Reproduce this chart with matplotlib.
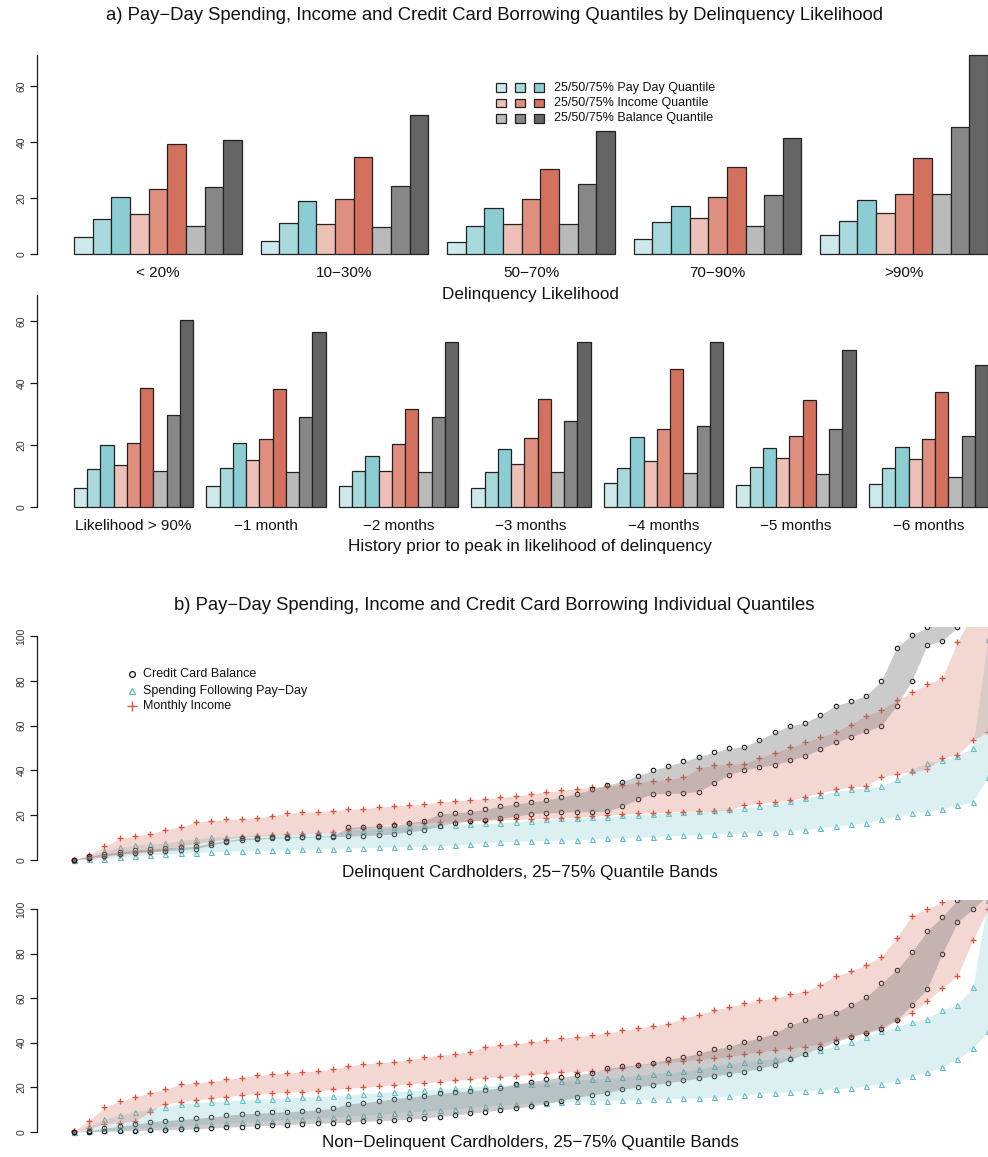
import numpy as np
import matplotlib
matplotlib.use("Agg")
import matplotlib.pyplot as plt
from matplotlib.patches import Rectangle
from matplotlib.lines import Line2D

plt.rcParams['font.family'] = ['Liberation Sans', 'DejaVu Sans']

W, H = 988, 1157

# ---------------- data: panel a ----------------
likelihood_groups = ['< 20%', '10\u221230%', '50\u221270%', '70\u221290%', '>90%']
history_groups = ['Likelihood > 90%', '\u22121 month', '\u22122 months', '\u22123 months',
                  '\u22124 months', '\u22125 months', '\u22126 months']
legend_a_labels = ['25/50/75% Pay Day Quantile', '25/50/75% Income Quantile',
                   '25/50/75% Balance Quantile']

# rows = groups, columns = 25/50/75% quantiles
payday_by_likelihood = [[6.2, 12.5, 20.2], [4.8, 11.0, 19.0], [4.2, 10.0, 16.4],
                        [5.5, 11.3, 17.1], [6.7, 11.7, 19.3]]
income_by_likelihood = [[14.3, 23.4, 39.4], [10.6, 19.5, 34.8], [10.7, 19.6, 30.2],
                        [13.0, 20.4, 31.0], [14.5, 21.5, 34.2]]
balance_by_likelihood = [[10.0, 23.9, 40.7], [9.8, 24.2, 49.8], [10.6, 25.0, 43.9],
                         [10.1, 21.0, 41.3], [21.3, 45.4, 71.1]]

payday_by_history = [[6.0, 12.3, 20.0], [6.6, 12.4, 20.5], [6.6, 11.6, 16.5], [6.0, 11.1, 18.5],
                     [7.7, 12.4, 22.5], [6.9, 12.8, 19.1], [7.4, 12.5, 19.2]]
income_by_history = [[13.5, 20.6, 38.2], [15.1, 21.9, 37.9], [11.5, 20.2, 31.6], [13.7, 22.1, 34.8],
                     [14.7, 25.1, 44.5], [15.8, 22.9, 34.5], [15.5, 21.9, 37.1]]
balance_by_history = [[11.4, 29.7, 60.2], [11.3, 29.1, 56.3], [11.1, 29.0, 53.2], [11.1, 27.6, 53.2],
                      [11.0, 26.2, 53.2], [10.6, 25.1, 50.5], [9.7, 22.7, 45.8]]

payday_colors = ['#cde9eb', '#a8d9dd', '#8ccdd4']
income_colors = ['#ecc0b6', '#de8f80', '#d4705e']
balance_colors = ['#bababa', '#878787', '#646464']

# ---------------- data: panel b (individual quantiles, 61 ordered positions) ----------------
income_hi_delinq = [0, 2.3, 6, 9.5, 10.5, 11.5, 13.5, 14.5, 16.8, 17.5,
                    18, 18.3, 18.8, 19.5, 20.8, 21.2, 21.5, 22, 22.5, 22.8,
                    23.5, 24, 24.3, 24.8, 25.8, 26.3, 26.8, 27.3, 28, 28.6,
                    29.3, 30.3, 31, 31.8, 32.5, 33, 33.5, 34.5, 35.3, 36,
                    36.8, 40.9, 42.4, 42.8, 43, 45.5, 47.8, 50.3, 52.5, 55,
                    57.3, 60.5, 64.5, 67, 71.3, 75, 78.5, 81.3, 97.6, 110, 120]
income_lo_delinq = [0, 0.5, 1.3, 2.2, 2.8, 3.5, 4.3, 6, 7.3, 8.2,
                    9.3, 10, 10.5, 11, 11.3, 11.7, 12, 12.5, 13.5, 14.2,
                    15, 16, 16.3, 16.5, 16.8, 17, 17.3, 17.5, 17.8, 18,
                    18.3, 18.5, 18.8, 19, 19.5, 20, 20.3, 20.7, 21, 21.3,
                    21.5, 21.8, 22, 22.3, 24.5, 25.3, 26, 26.5, 28.2, 30,
                    31.5, 32.5, 33, 37, 38.4, 39.4, 40.5, 45.5, 46.9, 53.5, 57]
spend_hi_delinq = [0, 1.5, 4, 5.5, 6.5, 7, 7.5, 8.5, 9.3, 10,
                   10.3, 10.6, 11, 11.3, 11.6, 11.8, 12.2, 12.5, 13, 13.5,
                   14, 14.5, 15, 15.3, 15.5, 15.7, 16, 16.2, 16.5, 17,
                   17.5, 18, 18.5, 18.8, 19, 19.3, 19.8, 20.2, 20.5, 21,
                   21.3, 21.8, 22.2, 22.7, 23.2, 24, 25.5, 26.2, 27.5, 29,
                   30.5, 31.5, 32.2, 32.8, 36, 40, 43.5, 44.5, 46.5, 50, 99]
spend_lo_delinq = [0, 0.1, 0.3, 1, 1.6, 2.2, 2.6, 2.9, 3.2, 3.5,
                   3.8, 4, 4.2, 4.4, 4.5, 4.7, 4.9, 5, 5.2, 5.4,
                   5.5, 5.7, 5.9, 6.1, 6.3, 6.6, 7, 7.5, 8, 8.2,
                   8.4, 8.6, 8.8, 9, 9.2, 9.5, 9.8, 10.1, 10.3, 10.6,
                   10.9, 11.2, 11.5, 11.8, 12, 12.3, 12.6, 13, 13.5, 14.2,
                   15, 15.8, 16.5, 18, 19.5, 21, 21.5, 22.7, 24.3, 26, 37]
balance_hi_delinq = [0, 1.5, 2.5, 3.5, 4.3, 4.8, 5.2, 5.6, 6, 7.5,
                     8.5, 9.6, 9.8, 10, 10.2, 10.3, 10.5, 10.8, 14.5, 14.8,
                     15, 15.3, 16.5, 17.5, 20.5, 21, 21.5, 22.5, 24, 25,
                     25.8, 26.8, 28, 29.5, 31.5, 33.4, 35, 37.5, 40, 42,
                     44, 46.1, 48, 49.9, 50.6, 53.6, 57, 60, 61.3, 64.8,
                     69, 71, 73.5, 80, 95, 100.5, 104, 108, 112, 116, 120]
balance_lo_delinq = [0, 0.8, 1.8, 2.6, 3.2, 3.6, 4, 4.4, 5, 6.5,
                     8, 8.8, 9.2, 9.6, 9.8, 10, 10.2, 10.3, 10.5, 10.8,
                     11, 11.5, 12.5, 13.3, 15, 16.5, 17.3, 17.8, 18.5, 19.5,
                     20.5, 21, 21.2, 21.5, 21.5, 21.7, 24, 27, 29.5, 29.7,
                     29.8, 30.5, 34.2, 38, 40.2, 41.5, 42.5, 44.5, 46.5, 49.5,
                     52.5, 55, 57.5, 60, 69, 80, 96, 98, 104, 108, 115]

income_hi_nondelinq = [0.3, 5, 11, 13.6, 15.5, 17.5, 19, 21.3, 21.8, 22.5,
                       23.5, 24.3, 25.3, 25.8, 26.3, 26.8, 27.3, 28, 29.5, 30.3,
                       31, 31.5, 32.2, 33.5, 34.2, 35, 35.8, 38.2, 39, 39.5,
                       40.3, 41.2, 42, 42.7, 43.5, 44.3, 45.5, 46.5, 47.5, 48.5,
                       51, 52.5, 54.6, 56, 57.6, 59, 60, 61.8, 62.9, 66,
                       70, 72, 75, 78.5, 87, 97, 100, 103, 107, 112, 118]
income_lo_nondelinq = [0.3, 1.5, 3.5, 4, 4.8, 9, 12.5, 13.5, 14.3, 15,
                       15.7, 16.5, 17, 17.4, 17.8, 18, 18.4, 19, 19.5, 20,
                       20.5, 21, 21.5, 22, 22.5, 23, 23.7, 24.3, 24.7, 25.2,
                       25.7, 26.2, 26.6, 27, 27.3, 27.7, 28.5, 29.8, 30.6, 31.2,
                       31.8, 32.4, 32.9, 33.8, 34.8, 35.8, 36.7, 37.4, 38.2, 39.5,
                       41.5, 43, 44.5, 47, 50, 53.5, 58.7, 64.5, 70, 86, 100]
spend_hi_nondelinq = [0, 2.5, 5.5, 7.5, 9, 10.3, 11.2, 12.5, 13, 13.5,
                      13.8, 14.2, 14.5, 14.8, 15.2, 15.5, 15.8, 16, 16.5, 17,
                      17.5, 18, 18.3, 18.7, 19.2, 19.6, 20, 20.4, 20.8, 21.2,
                      21.6, 22, 22.6, 23.2, 23.6, 24, 24.5, 25.2, 26, 26.6,
                      27.2, 28.2, 29.5, 30.5, 31.4, 32.2, 32.8, 33.5, 35.2, 36.8,
                      38.5, 40.3, 42.5, 45, 47, 49.2, 50.8, 54.8, 57, 65, 104]
spend_lo_nondelinq = [0, 0.3, 0.6, 1, 1.4, 1.8, 2.2, 2.6, 3, 3.4,
                      3.8, 4.2, 4.6, 5, 5.4, 5.8, 6.2, 6.6, 7, 7.4,
                      7.8, 8.3, 8.8, 9.3, 9.8, 10.3, 10.8, 11.5, 12, 12.4,
                      12.8, 13.1, 13.4, 13.6, 13.8, 14, 14.2, 14.4, 14.6, 14.8,
                      15, 15.2, 15.5, 16, 16.6, 17.1, 17.5, 18, 18.4, 18.8,
                      19.3, 19.8, 20.5, 21.5, 23, 25, 26.8, 29, 32.5, 37.5, 45]
balance_hi_nondelinq = [0, 0.5, 1.5, 2.5, 3.3, 4.5, 5, 5.5, 6, 6.5,
                        7.3, 8, 8.3, 8.7, 9, 9.3, 9.8, 10.5, 12.5, 13,
                        13.8, 14.8, 15.5, 16.2, 17.2, 17.8, 18.3, 18.8, 19.8, 21.4,
                        22.5, 23.5, 24.5, 25.5, 26.5, 28.5, 29.3, 30, 31, 32.5,
                        33.5, 35.2, 37, 38.2, 40.5, 42, 44.2, 48, 50, 52,
                        53.5, 57, 60.5, 66.6, 72.6, 80.5, 90, 96.5, 104, 110, 116]
balance_lo_nondelinq = [0, 0, 0.1, 0.3, 0.5, 0.7, 0.9, 1.1, 1.3, 1.6,
                        2, 2.3, 2.6, 2.9, 3.2, 3.5, 3.8, 4, 4.3, 4.6,
                        4.9, 5.2, 5.6, 6.2, 6.8, 7.5, 8.2, 9, 9.8, 10.5,
                        11.5, 12.7, 14, 15.5, 16.5, 17.6, 19, 20, 21, 22,
                        23, 24, 25, 26, 27, 28.5, 30, 32.5, 35, 37.5,
                        40.5, 42.5, 44.5, 46, 50, 56.9, 64, 80, 94, 100, 106]

panel_b_labels = ['Credit Card Balance', 'Spending Following Pay\u2212Day', 'Monthly Income']

# ---------------- styling ----------------
INK = '#1a1a1a'
BAL_PT = '#111111'
SPEND_PT = '#5cbcc6'
INC_PT = '#d9543d'
SPEND_FILL = ('#8ccdd3', 0.30)
INC_FILL = ('#d4705e', 0.28)
BAL_FILL = ('#7f7f7f', 0.40)
TITLE_FS = 13.3
XLAB_FS = 12.3
GROUP_FS = 11
LEG_FS = 9

fig = plt.figure(figsize=(W / 100, H / 100), dpi=100)


def add_ax(left, top, right, bottom):
    return fig.add_axes([left / W, 1 - bottom / H, (right - left) / W, (bottom - top) / H])


def fxy(px, py):
    return px / W, 1 - py / H


def style_axis(ax, ymax, ticks):
    for s in ['top', 'right', 'bottom']:
        ax.spines[s].set_visible(False)
    ax.spines['left'].set_bounds(0, ymax)
    ax.spines['left'].set_linewidth(0.9)
    ax.spines['left'].set_color(INK)
    ax.set_xticks([])
    ax.set_yticks(ticks)
    ax.set_yticklabels([str(t) for t in ticks])
    ax.tick_params(axis='y', length=5, width=0.9, color=INK, labelsize=7.5,
                   labelcolor='#333333', pad=3)
    for lab in ax.get_yticklabels():
        lab.set_rotation(90)
        lab.set_va('center')
    ax.patch.set_alpha(0)


def bar_panel(ax, groups, pay, inc, bal, label_offset):
    for g, name in enumerate(groups):
        vals = list(pay[g]) + list(inc[g]) + list(bal[g])
        cols = payday_colors + income_colors + balance_colors
        for b, (v, c) in enumerate(zip(vals, cols)):
            ax.bar(1 + g * 10 + b, v, width=1, align='edge', color=c,
                   edgecolor='#222222', linewidth=0.9, clip_on=False)
        ax.text(1 + g * 10 + 4.5, label_offset, name, transform=ax.get_xaxis_transform(),
                ha='center', va='center', fontsize=GROUP_FS, color='#111111')


# ---------------- panel a ----------------
fig.text(*fxy(494, 15), 'a) Pay\u2212Day Spending, Income and Credit Card Borrowing Quantiles by Delinquency Likelihood',
         ha='center', va='center', fontsize=TITLE_FS, color='#111111')

ax1 = add_ax(37.4, 55, 1024.6, 254)
ax1.set_xlim(-0.96, 51.96)
ax1.set_ylim(0, 71.1)
style_axis(ax1, 71.1, [0, 20, 40, 60])
bar_panel(ax1, likelihood_groups, payday_by_likelihood, income_by_likelihood,
          balance_by_likelihood, -19 / 199)
fig.text(*fxy(530, 294), 'Delinquency Likelihood', ha='center', va='center',
         fontsize=XLAB_FS, color='#111111')

# legend for panel a
row_y = [87.5, 103, 118.5]
col_x = [496, 515, 534]
for r, (cols, lab) in enumerate(zip([payday_colors, income_colors, balance_colors], legend_a_labels)):
    for c, colr in enumerate(cols):
        x0, y0 = fxy(col_x[c], row_y[r] + 4.2)
        fig.patches.append(Rectangle((x0, y0), 10 / W, 8.4 / H, transform=fig.transFigure,
                                     facecolor=colr, edgecolor='#222222', linewidth=0.9))
    fig.text(*fxy(554, row_y[r]), lab, ha='left', va='center', fontsize=LEG_FS, color='#111111')

ax2 = add_ax(37.4, 295, 1024.6, 506.7)
ax2.set_xlim(-1.76, 72.76)
ax2.set_ylim(0, 68.4)
style_axis(ax2, 68.4, [0, 20, 40, 60])
bar_panel(ax2, history_groups, payday_by_history, income_by_history,
          balance_by_history, -19.5 / 211.7)
fig.text(*fxy(530, 546), 'History prior to peak in likelihood of delinquency', ha='center',
         va='center', fontsize=XLAB_FS, color='#111111')

# ---------------- panel b ----------------
fig.text(*fxy(494, 606), 'b) Pay\u2212Day Spending, Income and Credit Card Borrowing Individual Quantiles',
         ha='center', va='center', fontsize=TITLE_FS, color='#111111')


def quantile_panel(ax, bal_lo, bal_hi, sp_lo, sp_hi, in_lo, in_hi):
    idx = np.arange(len(bal_lo))
    ax.set_xlim(-2.40, 62.4)
    ax.set_ylim(-4, 104)
    style_axis(ax, 100, [0, 20, 40, 60, 80, 100])
    mk = dict(linestyle='none', zorder=2)
    for v in (sp_lo, sp_hi):
        ax.plot(idx, v, marker='^', mfc='none', mec=SPEND_PT, ms=3.6, mew=0.8, **mk)
    for v in (in_lo, in_hi):
        ax.plot(idx, v, marker='+', mec=INC_PT, ms=5, mew=1.0, **mk)
    for v in (bal_lo, bal_hi):
        ax.plot(idx, v, marker='o', mfc='none', mec=BAL_PT, ms=3.2, mew=0.8, **mk)
    ax.fill_between(idx, sp_lo, sp_hi, color=SPEND_FILL[0], alpha=SPEND_FILL[1], lw=0, zorder=3)
    ax.fill_between(idx, in_lo, in_hi, color=INC_FILL[0], alpha=INC_FILL[1], lw=0, zorder=3)
    ax.fill_between(idx, bal_lo, bal_hi, color=BAL_FILL[0], alpha=BAL_FILL[1], lw=0, zorder=3)


ax3 = add_ax(37.4, 627.4, 1024.5, 868.6)
quantile_panel(ax3, balance_lo_delinq, balance_hi_delinq, spend_lo_delinq, spend_hi_delinq,
               income_lo_delinq, income_hi_delinq)
fig.text(*fxy(530, 873), 'Delinquent Cardholders, 25\u221275% Quantile Bands', ha='center',
         va='center', fontsize=XLAB_FS, color='#111111')

# legend for panel b
leg_rows = [674.3, 690.7, 706]
leg_styles = [dict(marker='o', mfc='none', mec=BAL_PT, ms=4.2, mew=0.9),
              dict(marker='^', mfc='none', mec=SPEND_PT, ms=5, mew=0.9),
              dict(marker='+', mec=INC_PT, ms=7, mew=1.0)]
for y, st, lab in zip(leg_rows, leg_styles, panel_b_labels):
    x0, y0 = fxy(132, y)
    fig.lines.append(Line2D([x0], [y0], transform=fig.transFigure, linestyle='none', **st))
    fig.text(*fxy(143, y), lab, ha='left', va='center', fontsize=LEG_FS, color='#111111')

ax4 = add_ax(37.4, 900.1, 1024.5, 1140.6)
quantile_panel(ax4, balance_lo_nondelinq, balance_hi_nondelinq, spend_lo_nondelinq,
               spend_hi_nondelinq, income_lo_nondelinq, income_hi_nondelinq)
fig.text(*fxy(530, 1143), 'Non\u2212Delinquent Cardholders, 25\u221275% Quantile Bands', ha='center',
         va='center', fontsize=XLAB_FS, color='#111111')

fig.savefig('out.png', dpi=100)
